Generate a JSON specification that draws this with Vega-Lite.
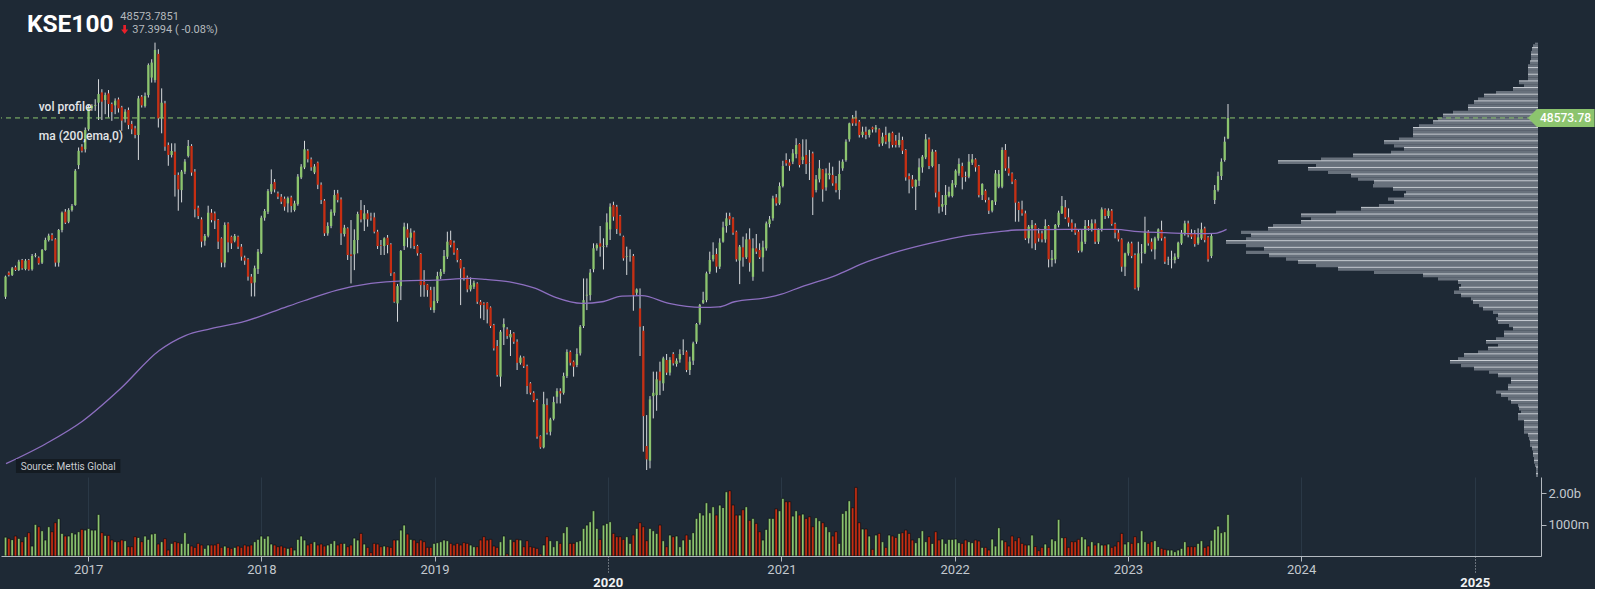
{
  "$schema": "https://vega.github.io/schema/vega-lite/v6.json",
  "background": "#1e2935",
  "padding": 0,
  "spacing": 0,
  "bounds": "flush",
  "config": {
    "view": {"stroke": null},
    "font": "Roboto",
    "axis": {
      "labelFont": "Roboto",
      "labelColor": "#c3c8ce",
      "labelFontSize": 13,
      "domainColor": "#b3b9c0",
      "tickColor": "#b3b9c0",
      "gridColor": "#2a3846",
      "title": null
    }
  },
  "datasets": {
    "candles": [
      {"d":"2016-07-11","o":37830,"h":39100,"l":37700,"c":39040,"v":600},
      {"d":"2016-07-18","o":39280,"h":39350,"l":39050,"c":39140,"v":560},
      {"d":"2016-07-25","o":39140,"h":39620,"l":39080,"c":39540,"v":520},
      {"d":"2016-08-01","o":39600,"h":39700,"l":39380,"c":39440,"v":635},
      {"d":"2016-08-08","o":39440,"h":40050,"l":39380,"c":39940,"v":560},
      {"d":"2016-08-15","o":40040,"h":40100,"l":39450,"c":39540,"v":455},
      {"d":"2016-08-22","o":39500,"h":40100,"l":39420,"c":40000,"v":614},
      {"d":"2016-08-29","o":40040,"h":40100,"l":39400,"c":39460,"v":741},
      {"d":"2016-09-05","o":39480,"h":40400,"l":39400,"c":40280,"v":317},
      {"d":"2016-09-12","o":40300,"h":40450,"l":40200,"c":40340,"v":1005},
      {"d":"2016-09-19","o":40180,"h":40250,"l":39760,"c":39840,"v":931},
      {"d":"2016-09-26","o":39880,"h":40700,"l":39800,"c":40640,"v":804},
      {"d":"2016-10-03","o":40640,"h":41380,"l":40600,"c":41240,"v":508},
      {"d":"2016-10-10","o":41240,"h":41620,"l":41150,"c":41500,"v":931},
      {"d":"2016-10-17","o":41540,"h":41650,"l":41200,"c":41280,"v":772},
      {"d":"2016-10-24","o":41280,"h":41350,"l":39640,"c":39880,"v":1058},
      {"d":"2016-10-31","o":39880,"h":41900,"l":39640,"c":41840,"v":1185},
      {"d":"2016-11-07","o":41840,"h":42950,"l":41700,"c":42880,"v":719},
      {"d":"2016-11-14","o":42940,"h":43100,"l":42200,"c":42280,"v":635},
      {"d":"2016-11-21","o":42340,"h":43150,"l":42250,"c":43040,"v":635},
      {"d":"2016-11-28","o":43040,"h":43400,"l":42950,"c":43280,"v":741},
      {"d":"2016-12-05","o":43340,"h":45500,"l":43300,"c":45400,"v":698},
      {"d":"2016-12-12","o":45740,"h":46800,"l":45500,"c":46600,"v":772},
      {"d":"2016-12-19","o":46850,"h":47000,"l":46500,"c":46600,"v":846},
      {"d":"2016-12-26","o":46690,"h":48000,"l":46500,"c":47850,"v":825},
      {"d":"2017-01-02","o":47890,"h":49350,"l":47800,"c":49210,"v":878},
      {"d":"2017-01-09","o":49150,"h":49400,"l":49000,"c":49300,"v":825},
      {"d":"2017-01-16","o":49300,"h":49700,"l":49000,"c":49350,"v":825},
      {"d":"2017-01-23","o":49490,"h":50900,"l":48450,"c":50010,"v":1322},
      {"d":"2017-01-30","o":50110,"h":50300,"l":48450,"c":49550,"v":741},
      {"d":"2017-02-06","o":49650,"h":50100,"l":48800,"c":49950,"v":656},
      {"d":"2017-02-13","o":50050,"h":50250,"l":48600,"c":49410,"v":656},
      {"d":"2017-02-20","o":49410,"h":49500,"l":48400,"c":48930,"v":508},
      {"d":"2017-02-27","o":49330,"h":49750,"l":48800,"c":49610,"v":455},
      {"d":"2017-03-06","o":49690,"h":49800,"l":48900,"c":49150,"v":455},
      {"d":"2017-03-13","o":49210,"h":49300,"l":47800,"c":48410,"v":508},
      {"d":"2017-03-20","o":48500,"h":49100,"l":48300,"c":48950,"v":487},
      {"d":"2017-03-27","o":49050,"h":49200,"l":47900,"c":48150,"v":296},
      {"d":"2017-04-03","o":48210,"h":48400,"l":47600,"c":47890,"v":296},
      {"d":"2017-04-10","o":47950,"h":48100,"l":47350,"c":47550,"v":614},
      {"d":"2017-04-17","o":47550,"h":49900,"l":46050,"c":49750,"v":590},
      {"d":"2017-04-24","o":49850,"h":49950,"l":49200,"c":49330,"v":455},
      {"d":"2017-05-01","o":49290,"h":50100,"l":49200,"c":49890,"v":635},
      {"d":"2017-05-08","o":49950,"h":51850,"l":49800,"c":51750,"v":529},
      {"d":"2017-05-15","o":51000,"h":52100,"l":50700,"c":51900,"v":698},
      {"d":"2017-05-22","o":50850,"h":53100,"l":50700,"c":52660,"v":719},
      {"d":"2017-05-29","o":52420,"h":52700,"l":48000,"c":48550,"v":381},
      {"d":"2017-06-05","o":48550,"h":50350,"l":47650,"c":49490,"v":455},
      {"d":"2017-06-12","o":49450,"h":49600,"l":46600,"c":46850,"v":550},
      {"d":"2017-06-19","o":46950,"h":47100,"l":45700,"c":46350,"v":190},
      {"d":"2017-06-26","o":46350,"h":47050,"l":46200,"c":46590,"v":402},
      {"d":"2017-07-03","o":46550,"h":47050,"l":43850,"c":45150,"v":455},
      {"d":"2017-07-10","o":45150,"h":45300,"l":43000,"c":44280,"v":423},
      {"d":"2017-07-17","o":44240,"h":45450,"l":43500,"c":45350,"v":402},
      {"d":"2017-07-24","o":45350,"h":46100,"l":45200,"c":45950,"v":741},
      {"d":"2017-07-31","o":46290,"h":47250,"l":46200,"c":46890,"v":402},
      {"d":"2017-08-07","o":46890,"h":47000,"l":45100,"c":45290,"v":317},
      {"d":"2017-08-14","o":45350,"h":45500,"l":42600,"c":43080,"v":275},
      {"d":"2017-08-21","o":43180,"h":43300,"l":42500,"c":42680,"v":402},
      {"d":"2017-08-28","o":42480,"h":42600,"l":40800,"c":41140,"v":349},
      {"d":"2017-09-04","o":41200,"h":41600,"l":40900,"c":41480,"v":243},
      {"d":"2017-09-11","o":41500,"h":43300,"l":41400,"c":42880,"v":349},
      {"d":"2017-09-18","o":42880,"h":43100,"l":42300,"c":42440,"v":349},
      {"d":"2017-09-25","o":42840,"h":42950,"l":41900,"c":42400,"v":349},
      {"d":"2017-10-02","o":42440,"h":42500,"l":40700,"c":41140,"v":402},
      {"d":"2017-10-09","o":41340,"h":41400,"l":39600,"c":39880,"v":275},
      {"d":"2017-10-16","o":39880,"h":42300,"l":39600,"c":42140,"v":317},
      {"d":"2017-10-23","o":42240,"h":42300,"l":40500,"c":41100,"v":275},
      {"d":"2017-10-30","o":41440,"h":41500,"l":40700,"c":41040,"v":243},
      {"d":"2017-11-06","o":41200,"h":41600,"l":41100,"c":41480,"v":275},
      {"d":"2017-11-13","o":41440,"h":41500,"l":40700,"c":40840,"v":317},
      {"d":"2017-11-20","o":40840,"h":41000,"l":40000,"c":40240,"v":275},
      {"d":"2017-11-27","o":40180,"h":40300,"l":39750,"c":40000,"v":349},
      {"d":"2017-12-04","o":40080,"h":40150,"l":38800,"c":39040,"v":317},
      {"d":"2017-12-11","o":39040,"h":39200,"l":37850,"c":38640,"v":349},
      {"d":"2017-12-18","o":38680,"h":39700,"l":37850,"c":39540,"v":455},
      {"d":"2017-12-25","o":39500,"h":40700,"l":39200,"c":40540,"v":529},
      {"d":"2018-01-01","o":40480,"h":42700,"l":40400,"c":42580,"v":635},
      {"d":"2018-01-08","o":42580,"h":43100,"l":42400,"c":42980,"v":560},
      {"d":"2018-01-15","o":42940,"h":44300,"l":42800,"c":44180,"v":635},
      {"d":"2018-01-22","o":44150,"h":45480,"l":44000,"c":44600,"v":381},
      {"d":"2018-01-29","o":44720,"h":44900,"l":44100,"c":44280,"v":349},
      {"d":"2018-02-05","o":44040,"h":44150,"l":43700,"c":43840,"v":296},
      {"d":"2018-02-12","o":43840,"h":44000,"l":43400,"c":43540,"v":317},
      {"d":"2018-02-19","o":43720,"h":43850,"l":43000,"c":43240,"v":275},
      {"d":"2018-02-26","o":43440,"h":43850,"l":42900,"c":43760,"v":243},
      {"d":"2018-03-05","o":43800,"h":43900,"l":42900,"c":43280,"v":275},
      {"d":"2018-03-12","o":43040,"h":43600,"l":42950,"c":43440,"v":190},
      {"d":"2018-03-19","o":43400,"h":45200,"l":43300,"c":45050,"v":529},
      {"d":"2018-03-26","o":45000,"h":45800,"l":44900,"c":45650,"v":635},
      {"d":"2018-04-02","o":45600,"h":47200,"l":45500,"c":46690,"v":508},
      {"d":"2018-04-09","o":46610,"h":46700,"l":45900,"c":46090,"v":349},
      {"d":"2018-04-16","o":46090,"h":46200,"l":45400,"c":45610,"v":402},
      {"d":"2018-04-23","o":45300,"h":45800,"l":45200,"c":45660,"v":455},
      {"d":"2018-04-30","o":45890,"h":45950,"l":44300,"c":44560,"v":349},
      {"d":"2018-05-07","o":44560,"h":44700,"l":43400,"c":43640,"v":381},
      {"d":"2018-05-14","o":43600,"h":43700,"l":41480,"c":41640,"v":317},
      {"d":"2018-05-21","o":41640,"h":42300,"l":41500,"c":42080,"v":349},
      {"d":"2018-05-28","o":42080,"h":43080,"l":41950,"c":42940,"v":402},
      {"d":"2018-06-04","o":42880,"h":44250,"l":42700,"c":43940,"v":487},
      {"d":"2018-06-11","o":44040,"h":44250,"l":43500,"c":43640,"v":349},
      {"d":"2018-06-18","o":43680,"h":43800,"l":40940,"c":41640,"v":402},
      {"d":"2018-06-25","o":41600,"h":42150,"l":41450,"c":41980,"v":402},
      {"d":"2018-07-02","o":41940,"h":42000,"l":40040,"c":40340,"v":296},
      {"d":"2018-07-09","o":40380,"h":42440,"l":38630,"c":40280,"v":349},
      {"d":"2018-07-16","o":40380,"h":41880,"l":39430,"c":41240,"v":570},
      {"d":"2018-07-23","o":41240,"h":42940,"l":40440,"c":42800,"v":508},
      {"d":"2018-07-30","o":43040,"h":43640,"l":42300,"c":42480,"v":719},
      {"d":"2018-08-06","o":42480,"h":43340,"l":41780,"c":42840,"v":381},
      {"d":"2018-08-13","o":42840,"h":43040,"l":42040,"c":42480,"v":275},
      {"d":"2018-08-20","o":42640,"h":42880,"l":42400,"c":42600,"v":106},
      {"d":"2018-08-27","o":42600,"h":42880,"l":41640,"c":41740,"v":402},
      {"d":"2018-09-03","o":41740,"h":41850,"l":40700,"c":40880,"v":381},
      {"d":"2018-09-10","o":40940,"h":41240,"l":40340,"c":40900,"v":296},
      {"d":"2018-09-17","o":40880,"h":41400,"l":40340,"c":41340,"v":317},
      {"d":"2018-09-24","o":41380,"h":41540,"l":40440,"c":40940,"v":296},
      {"d":"2018-10-01","o":40980,"h":41050,"l":39080,"c":39240,"v":275},
      {"d":"2018-10-08","o":39240,"h":39300,"l":37470,"c":37530,"v":508},
      {"d":"2018-10-15","o":37430,"h":38600,"l":36330,"c":38470,"v":508},
      {"d":"2018-10-22","o":38470,"h":40640,"l":37630,"c":40580,"v":825},
      {"d":"2018-10-29","o":40880,"h":42280,"l":40640,"c":42040,"v":984},
      {"d":"2018-11-05","o":41880,"h":42240,"l":40800,"c":41380,"v":698},
      {"d":"2018-11-12","o":41380,"h":41940,"l":40740,"c":41680,"v":529},
      {"d":"2018-11-19","o":41700,"h":41800,"l":40700,"c":40880,"v":508},
      {"d":"2018-11-26","o":40880,"h":40950,"l":40300,"c":40440,"v":423},
      {"d":"2018-12-03","o":40400,"h":40450,"l":37830,"c":38530,"v":508},
      {"d":"2018-12-10","o":38730,"h":39430,"l":37830,"c":38530,"v":455},
      {"d":"2018-12-17","o":38570,"h":38600,"l":37830,"c":38230,"v":275},
      {"d":"2018-12-24","o":38230,"h":38430,"l":37030,"c":37190,"v":275},
      {"d":"2018-12-31","o":37030,"h":38430,"l":36870,"c":37570,"v":402},
      {"d":"2019-01-07","o":37570,"h":39330,"l":37450,"c":39070,"v":423},
      {"d":"2019-01-14","o":39070,"h":39500,"l":38900,"c":39330,"v":455},
      {"d":"2019-01-21","o":39330,"h":40640,"l":39200,"c":40280,"v":508},
      {"d":"2019-01-28","o":40240,"h":41740,"l":40100,"c":41140,"v":487},
      {"d":"2019-02-04","o":41240,"h":41800,"l":40800,"c":40940,"v":402},
      {"d":"2019-02-11","o":41080,"h":41200,"l":40350,"c":40480,"v":349},
      {"d":"2019-02-18","o":40640,"h":40750,"l":39900,"c":40040,"v":402},
      {"d":"2019-02-25","o":40040,"h":40100,"l":37330,"c":39530,"v":349},
      {"d":"2019-03-04","o":39530,"h":39600,"l":38800,"c":38930,"v":423},
      {"d":"2019-03-11","o":38990,"h":39100,"l":38100,"c":38270,"v":402},
      {"d":"2019-03-18","o":38270,"h":38990,"l":38150,"c":38530,"v":349},
      {"d":"2019-03-25","o":38430,"h":38800,"l":38300,"c":38670,"v":296},
      {"d":"2019-04-01","o":38630,"h":38700,"l":37400,"c":37530,"v":296},
      {"d":"2019-04-08","o":37530,"h":37630,"l":36530,"c":37330,"v":508},
      {"d":"2019-04-15","o":37430,"h":37500,"l":36430,"c":37330,"v":614},
      {"d":"2019-04-22","o":37470,"h":37500,"l":36230,"c":37070,"v":508},
      {"d":"2019-04-29","o":37190,"h":37250,"l":35950,"c":36070,"v":529},
      {"d":"2019-05-06","o":36130,"h":36200,"l":34600,"c":34730,"v":317},
      {"d":"2019-05-13","o":34870,"h":35230,"l":33030,"c":33130,"v":275},
      {"d":"2019-05-20","o":33030,"h":35830,"l":32430,"c":35730,"v":455},
      {"d":"2019-05-27","o":35990,"h":36530,"l":34930,"c":36190,"v":635},
      {"d":"2019-06-03","o":35870,"h":36000,"l":35300,"c":35470,"v":63},
      {"d":"2019-06-10","o":35390,"h":35830,"l":34270,"c":35590,"v":529},
      {"d":"2019-06-17","o":35630,"h":35700,"l":35000,"c":35130,"v":455},
      {"d":"2019-06-24","o":35130,"h":35270,"l":33430,"c":33860,"v":529},
      {"d":"2019-07-01","o":33860,"h":34300,"l":33750,"c":34180,"v":508},
      {"d":"2019-07-08","o":34180,"h":34250,"l":33550,"c":33660,"v":296},
      {"d":"2019-07-15","o":33660,"h":33750,"l":31980,"c":32470,"v":487},
      {"d":"2019-07-22","o":32630,"h":32700,"l":31950,"c":32060,"v":296},
      {"d":"2019-07-29","o":32060,"h":32150,"l":31500,"c":31620,"v":275},
      {"d":"2019-08-05","o":31620,"h":31700,"l":29300,"c":29420,"v":243},
      {"d":"2019-08-12","o":29460,"h":29500,"l":28700,"c":28780,"v":60},
      {"d":"2019-08-19","o":28780,"h":32120,"l":28720,"c":31380,"v":350},
      {"d":"2019-08-26","o":31320,"h":31720,"l":29550,"c":29660,"v":614},
      {"d":"2019-09-02","o":29720,"h":30560,"l":29500,"c":30460,"v":487},
      {"d":"2019-09-09","o":30500,"h":31830,"l":30400,"c":31500,"v":296},
      {"d":"2019-09-16","o":31820,"h":32330,"l":31420,"c":32160,"v":487},
      {"d":"2019-09-23","o":32160,"h":32330,"l":31420,"c":32020,"v":402},
      {"d":"2019-09-30","o":32060,"h":33270,"l":31950,"c":33070,"v":741},
      {"d":"2019-10-07","o":33070,"h":34670,"l":32950,"c":34510,"v":931},
      {"d":"2019-10-14","o":34510,"h":34600,"l":33700,"c":33860,"v":402},
      {"d":"2019-10-21","o":33930,"h":34000,"l":33030,"c":33630,"v":402},
      {"d":"2019-10-28","o":33730,"h":34730,"l":33600,"c":34390,"v":455},
      {"d":"2019-11-04","o":34430,"h":36130,"l":34300,"c":36030,"v":487},
      {"d":"2019-11-11","o":36070,"h":38930,"l":35950,"c":37630,"v":878},
      {"d":"2019-11-18","o":37900,"h":38930,"l":37030,"c":37950,"v":984},
      {"d":"2019-11-25","o":37930,"h":39500,"l":37600,"c":39280,"v":1090},
      {"d":"2019-12-02","o":39480,"h":41040,"l":39300,"c":40740,"v":1439},
      {"d":"2019-12-09","o":40740,"h":41040,"l":40600,"c":40940,"v":878},
      {"d":"2019-12-16","o":41040,"h":42080,"l":40240,"c":40840,"v":529},
      {"d":"2019-12-23","o":40840,"h":41340,"l":39470,"c":40880,"v":984},
      {"d":"2019-12-30","o":40940,"h":42840,"l":40800,"c":42300,"v":1037},
      {"d":"2020-01-06","o":41880,"h":43440,"l":41240,"c":43240,"v":1090},
      {"d":"2020-01-13","o":43340,"h":43540,"l":42400,"c":42640,"v":719},
      {"d":"2020-01-20","o":43240,"h":43350,"l":41600,"c":41900,"v":614},
      {"d":"2020-01-27","o":42680,"h":42750,"l":41500,"c":41640,"v":614},
      {"d":"2020-02-03","o":41440,"h":41500,"l":40000,"c":40140,"v":529},
      {"d":"2020-02-10","o":40240,"h":40840,"l":39140,"c":40280,"v":614},
      {"d":"2020-02-17","o":40240,"h":40680,"l":39940,"c":40260,"v":402},
      {"d":"2020-02-24","o":40280,"h":40400,"l":36990,"c":37930,"v":667},
      {"d":"2020-03-02","o":38070,"h":38330,"l":37900,"c":38270,"v":878},
      {"d":"2020-03-09","o":37130,"h":38330,"l":34270,"c":36030,"v":1058},
      {"d":"2020-03-16","o":35790,"h":36070,"l":28520,"c":30660,"v":931},
      {"d":"2020-03-23","o":28860,"h":30720,"l":27420,"c":28060,"v":487},
      {"d":"2020-03-30","o":27980,"h":31860,"l":27520,"c":31660,"v":878},
      {"d":"2020-04-06","o":31860,"h":33330,"l":30520,"c":32060,"v":804},
      {"d":"2020-04-13","o":31920,"h":33330,"l":30980,"c":32870,"v":719},
      {"d":"2020-04-20","o":33330,"h":33930,"l":31920,"c":32790,"v":984},
      {"d":"2020-04-27","o":32630,"h":34230,"l":32180,"c":34130,"v":487},
      {"d":"2020-05-04","o":34030,"h":34390,"l":33130,"c":33270,"v":296},
      {"d":"2020-05-11","o":33270,"h":34200,"l":33100,"c":34030,"v":667},
      {"d":"2020-05-18","o":34390,"h":34500,"l":33700,"c":33830,"v":614},
      {"d":"2020-05-25","o":33790,"h":34130,"l":33630,"c":33990,"v":635},
      {"d":"2020-06-01","o":34070,"h":34670,"l":33870,"c":34390,"v":296},
      {"d":"2020-06-08","o":34590,"h":35270,"l":34330,"c":34610,"v":508},
      {"d":"2020-06-15","o":34530,"h":34600,"l":33300,"c":33430,"v":667},
      {"d":"2020-06-22","o":33430,"h":34230,"l":33130,"c":33930,"v":529},
      {"d":"2020-06-29","o":33990,"h":35130,"l":33730,"c":35030,"v":741},
      {"d":"2020-07-06","o":35130,"h":36250,"l":35000,"c":36190,"v":1196},
      {"d":"2020-07-13","o":36270,"h":37400,"l":36150,"c":37330,"v":1375},
      {"d":"2020-07-20","o":37470,"h":38130,"l":37400,"c":37630,"v":1301},
      {"d":"2020-07-27","o":37630,"h":39340,"l":37500,"c":39240,"v":1693},
      {"d":"2020-08-03","o":39340,"h":40540,"l":39200,"c":40040,"v":1375},
      {"d":"2020-08-10","o":40080,"h":41100,"l":39950,"c":40340,"v":1566},
      {"d":"2020-08-17","o":40400,"h":40740,"l":39280,"c":39640,"v":1301},
      {"d":"2020-08-24","o":39640,"h":41340,"l":39500,"c":41080,"v":1619},
      {"d":"2020-08-31","o":41140,"h":42340,"l":41080,"c":42000,"v":1540},
      {"d":"2020-09-07","o":42080,"h":42880,"l":41680,"c":42540,"v":2042},
      {"d":"2020-09-14","o":42680,"h":42880,"l":42140,"c":42480,"v":2074},
      {"d":"2020-09-21","o":42540,"h":42600,"l":41550,"c":41680,"v":1620},
      {"d":"2020-09-28","o":41740,"h":41800,"l":39940,"c":40080,"v":1301},
      {"d":"2020-10-05","o":40000,"h":40940,"l":38590,"c":40840,"v":1301},
      {"d":"2020-10-12","o":40800,"h":41440,"l":39640,"c":40200,"v":1470},
      {"d":"2020-10-19","o":40200,"h":41640,"l":40100,"c":41280,"v":1566},
      {"d":"2020-10-26","o":41280,"h":41940,"l":39340,"c":39880,"v":1132},
      {"d":"2020-11-02","o":39030,"h":41340,"l":38790,"c":40740,"v":1196},
      {"d":"2020-11-09","o":40740,"h":41600,"l":40400,"c":40540,"v":1037},
      {"d":"2020-11-16","o":40640,"h":41040,"l":40100,"c":40200,"v":772},
      {"d":"2020-11-23","o":40200,"h":41200,"l":39340,"c":40800,"v":508},
      {"d":"2020-11-30","o":40740,"h":42350,"l":40600,"c":42240,"v":846},
      {"d":"2020-12-07","o":42200,"h":42680,"l":42000,"c":42480,"v":1196},
      {"d":"2020-12-14","o":42540,"h":43900,"l":42400,"c":43740,"v":1196},
      {"d":"2020-12-21","o":43800,"h":44000,"l":43300,"c":43440,"v":1498},
      {"d":"2020-12-28","o":43440,"h":44700,"l":43350,"c":44480,"v":1439},
      {"d":"2021-01-04","o":44480,"h":46000,"l":44400,"c":45685,"v":1830},
      {"d":"2021-01-11","o":46046,"h":46450,"l":45700,"c":45845,"v":1725},
      {"d":"2021-01-18","o":45900,"h":46100,"l":45400,"c":45700,"v":1725},
      {"d":"2021-01-25","o":45950,"h":46700,"l":45800,"c":46450,"v":1270},
      {"d":"2021-02-01","o":46400,"h":47350,"l":46150,"c":46947,"v":1439},
      {"d":"2021-02-08","o":47007,"h":47050,"l":45600,"c":45745,"v":1301},
      {"d":"2021-02-15","o":46046,"h":47288,"l":45800,"c":46246,"v":1333},
      {"d":"2021-02-22","o":46346,"h":47288,"l":45205,"c":45805,"v":1196},
      {"d":"2021-03-01","o":45905,"h":46650,"l":44844,"c":45885,"v":1248},
      {"d":"2021-03-08","o":46446,"h":46547,"l":42741,"c":43802,"v":931},
      {"d":"2021-03-15","o":44243,"h":45144,"l":44100,"c":44884,"v":1217},
      {"d":"2021-03-22","o":44884,"h":46046,"l":44700,"c":45545,"v":1121},
      {"d":"2021-03-29","o":45485,"h":45500,"l":43542,"c":44283,"v":1058},
      {"d":"2021-04-05","o":44403,"h":45545,"l":44200,"c":45245,"v":931},
      {"d":"2021-04-12","o":45144,"h":45885,"l":44884,"c":45245,"v":772},
      {"d":"2021-04-19","o":45144,"h":45645,"l":44500,"c":44644,"v":635},
      {"d":"2021-04-26","o":44644,"h":45084,"l":44100,"c":44243,"v":772},
      {"d":"2021-05-03","o":44243,"h":46006,"l":43682,"c":45204,"v":402},
      {"d":"2021-05-10","o":45545,"h":46086,"l":45400,"c":45945,"v":1354},
      {"d":"2021-05-17","o":46046,"h":47288,"l":45945,"c":47148,"v":1439},
      {"d":"2021-05-24","o":47288,"h":48290,"l":47150,"c":48249,"v":1756},
      {"d":"2021-05-31","o":48550,"h":48750,"l":48100,"c":48249,"v":1534},
      {"d":"2021-06-07","o":48610,"h":49010,"l":48100,"c":48249,"v":2180},
      {"d":"2021-06-14","o":48350,"h":48450,"l":47400,"c":47548,"v":1058},
      {"d":"2021-06-21","o":47548,"h":48049,"l":47400,"c":47748,"v":857},
      {"d":"2021-06-28","o":47748,"h":48049,"l":47300,"c":47548,"v":857},
      {"d":"2021-07-05","o":47548,"h":47888,"l":47400,"c":47848,"v":635},
      {"d":"2021-07-12","o":48009,"h":48049,"l":47700,"c":47888,"v":212},
      {"d":"2021-07-19","o":47888,"h":48150,"l":47700,"c":48000,"v":667},
      {"d":"2021-07-26","o":47888,"h":47950,"l":46850,"c":47007,"v":719},
      {"d":"2021-08-02","o":47047,"h":47688,"l":46900,"c":47448,"v":455},
      {"d":"2021-08-09","o":47548,"h":48049,"l":47000,"c":47148,"v":275},
      {"d":"2021-08-16","o":47148,"h":47688,"l":46747,"c":47648,"v":667},
      {"d":"2021-08-23","o":47688,"h":47750,"l":46800,"c":46947,"v":635},
      {"d":"2021-08-30","o":47208,"h":47548,"l":46800,"c":46947,"v":592},
      {"d":"2021-09-06","o":46947,"h":47688,"l":46800,"c":47248,"v":719},
      {"d":"2021-09-13","o":47248,"h":47448,"l":46406,"c":46607,"v":741},
      {"d":"2021-09-20","o":46647,"h":46700,"l":44804,"c":45004,"v":825},
      {"d":"2021-09-27","o":45084,"h":45244,"l":44043,"c":44884,"v":719},
      {"d":"2021-10-04","o":44884,"h":45144,"l":44350,"c":44443,"v":508},
      {"d":"2021-10-11","o":44443,"h":44884,"l":43041,"c":44844,"v":423},
      {"d":"2021-10-18","o":44804,"h":46146,"l":44483,"c":45605,"v":582},
      {"d":"2021-10-25","o":45605,"h":46346,"l":45284,"c":46246,"v":804},
      {"d":"2021-11-01","o":46206,"h":47608,"l":46100,"c":47288,"v":455},
      {"d":"2021-11-08","o":47288,"h":47400,"l":45500,"c":45685,"v":614},
      {"d":"2021-11-15","o":45685,"h":46687,"l":45605,"c":46547,"v":400},
      {"d":"2021-11-22","o":46547,"h":46647,"l":43802,"c":44083,"v":772},
      {"d":"2021-11-29","o":44143,"h":45805,"l":42841,"c":43241,"v":508},
      {"d":"2021-12-06","o":43241,"h":43942,"l":42941,"c":43402,"v":540},
      {"d":"2021-12-13","o":43341,"h":44543,"l":42741,"c":43942,"v":402},
      {"d":"2021-12-20","o":43882,"h":44443,"l":43800,"c":44143,"v":529},
      {"d":"2021-12-27","o":43882,"h":44844,"l":43800,"c":44644,"v":529},
      {"d":"2022-01-03","o":44543,"h":45485,"l":44400,"c":45405,"v":540},
      {"d":"2022-01-10","o":45244,"h":46146,"l":45100,"c":45805,"v":423},
      {"d":"2022-01-17","o":45685,"h":45886,"l":44283,"c":45004,"v":402},
      {"d":"2022-01-24","o":45064,"h":45345,"l":44744,"c":45024,"v":508},
      {"d":"2022-01-31","o":45044,"h":46406,"l":44950,"c":45946,"v":455},
      {"d":"2022-02-07","o":45886,"h":46406,"l":45750,"c":46086,"v":423},
      {"d":"2022-02-14","o":46086,"h":46150,"l":45345,"c":45605,"v":508},
      {"d":"2022-02-21","o":45685,"h":45750,"l":43800,"c":43942,"v":476},
      {"d":"2022-02-28","o":43942,"h":44650,"l":43642,"c":44604,"v":275},
      {"d":"2022-03-07","o":44203,"h":44283,"l":43500,"c":43642,"v":275},
      {"d":"2022-03-14","o":43642,"h":43802,"l":42801,"c":43001,"v":190},
      {"d":"2022-03-21","o":43001,"h":43642,"l":42900,"c":43602,"v":540},
      {"d":"2022-03-28","o":43542,"h":45445,"l":43341,"c":45244,"v":317},
      {"d":"2022-04-04","o":44443,"h":45445,"l":44350,"c":45204,"v":899},
      {"d":"2022-04-11","o":44443,"h":46807,"l":44350,"c":46647,"v":508},
      {"d":"2022-04-18","o":46647,"h":47007,"l":45400,"c":45545,"v":455},
      {"d":"2022-04-25","o":45545,"h":46246,"l":45100,"c":45244,"v":317},
      {"d":"2022-05-02","o":45244,"h":45300,"l":44600,"c":44744,"v":635},
      {"d":"2022-05-09","o":44844,"h":44884,"l":42340,"c":43482,"v":487},
      {"d":"2022-05-16","o":43482,"h":43542,"l":42340,"c":43041,"v":582},
      {"d":"2022-05-23","o":43081,"h":43602,"l":42700,"c":42841,"v":402},
      {"d":"2022-05-30","o":42841,"h":43001,"l":41239,"c":41339,"v":349},
      {"d":"2022-06-06","o":41339,"h":42140,"l":41038,"c":42040,"v":349},
      {"d":"2022-06-13","o":41939,"h":42440,"l":40738,"c":42140,"v":667},
      {"d":"2022-06-20","o":42140,"h":42240,"l":40638,"c":41038,"v":300},
      {"d":"2022-06-27","o":41639,"h":41939,"l":41138,"c":41339,"v":169},
      {"d":"2022-07-04","o":41639,"h":41800,"l":41100,"c":41279,"v":275},
      {"d":"2022-07-11","o":41279,"h":42480,"l":41078,"c":42080,"v":381},
      {"d":"2022-07-18","o":42080,"h":42140,"l":39596,"c":40077,"v":275},
      {"d":"2022-07-25","o":40037,"h":40638,"l":39636,"c":40137,"v":540},
      {"d":"2022-08-01","o":40077,"h":42200,"l":39836,"c":42140,"v":487},
      {"d":"2022-08-08","o":42140,"h":43001,"l":42000,"c":42881,"v":1164},
      {"d":"2022-08-15","o":42841,"h":43882,"l":42801,"c":43281,"v":582},
      {"d":"2022-08-22","o":43201,"h":43642,"l":42500,"c":42601,"v":582},
      {"d":"2022-08-29","o":42601,"h":43141,"l":42040,"c":42280,"v":275},
      {"d":"2022-09-05","o":42280,"h":42480,"l":41739,"c":41879,"v":455},
      {"d":"2022-09-12","o":42000,"h":42240,"l":41550,"c":41679,"v":455},
      {"d":"2022-09-19","o":41739,"h":41879,"l":40477,"c":40598,"v":529},
      {"d":"2022-09-26","o":40598,"h":41879,"l":40500,"c":41138,"v":614},
      {"d":"2022-10-03","o":41138,"h":42440,"l":41000,"c":42080,"v":540},
      {"d":"2022-10-10","o":42080,"h":42440,"l":41800,"c":41939,"v":317},
      {"d":"2022-10-17","o":41879,"h":42480,"l":41750,"c":42240,"v":455},
      {"d":"2022-10-24","o":42240,"h":42480,"l":41000,"c":41138,"v":349},
      {"d":"2022-10-31","o":41138,"h":41939,"l":41000,"c":41839,"v":423},
      {"d":"2022-11-07","o":41879,"h":43201,"l":41750,"c":43081,"v":349},
      {"d":"2022-11-14","o":43081,"h":43141,"l":42500,"c":42681,"v":349},
      {"d":"2022-11-21","o":42681,"h":43141,"l":42550,"c":43001,"v":380},
      {"d":"2022-11-28","o":43001,"h":43100,"l":42100,"c":42200,"v":275},
      {"d":"2022-12-05","o":42200,"h":42280,"l":41339,"c":41679,"v":317},
      {"d":"2022-12-12","o":41679,"h":41879,"l":41150,"c":41279,"v":455},
      {"d":"2022-12-19","o":41279,"h":41339,"l":39335,"c":39636,"v":719},
      {"d":"2022-12-26","o":39636,"h":40477,"l":39075,"c":40437,"v":381},
      {"d":"2023-01-02","o":40437,"h":41138,"l":40300,"c":41038,"v":455},
      {"d":"2023-01-09","o":41038,"h":41138,"l":40150,"c":40277,"v":402},
      {"d":"2023-01-16","o":40337,"h":40437,"l":38274,"c":38334,"v":614},
      {"d":"2023-01-23","o":38394,"h":41138,"l":38194,"c":40437,"v":423},
      {"d":"2023-01-30","o":40477,"h":40998,"l":39836,"c":40500,"v":804},
      {"d":"2023-02-06","o":40477,"h":42640,"l":40400,"c":41739,"v":455},
      {"d":"2023-02-13","o":41739,"h":41839,"l":40900,"c":41038,"v":402},
      {"d":"2023-02-20","o":41138,"h":41339,"l":40550,"c":40678,"v":455},
      {"d":"2023-02-27","o":40678,"h":41439,"l":40077,"c":41339,"v":487},
      {"d":"2023-03-06","o":41339,"h":41939,"l":41200,"c":41879,"v":300},
      {"d":"2023-03-13","o":41839,"h":42400,"l":41200,"c":41339,"v":243},
      {"d":"2023-03-20","o":41339,"h":41439,"l":39800,"c":39937,"v":212},
      {"d":"2023-03-27","o":40037,"h":40237,"l":39736,"c":40060,"v":190},
      {"d":"2023-04-03","o":40077,"h":40598,"l":39536,"c":40100,"v":190},
      {"d":"2023-04-10","o":40037,"h":40437,"l":39836,"c":40237,"v":138},
      {"d":"2023-04-17","o":40197,"h":41138,"l":40100,"c":41078,"v":190},
      {"d":"2023-04-24","o":41038,"h":41839,"l":40950,"c":41679,"v":243},
      {"d":"2023-05-01","o":41599,"h":42400,"l":41500,"c":42240,"v":455},
      {"d":"2023-05-08","o":42240,"h":42400,"l":41400,"c":41539,"v":296},
      {"d":"2023-05-15","o":41639,"h":41879,"l":41300,"c":41439,"v":296},
      {"d":"2023-05-22","o":41639,"h":41839,"l":40838,"c":40998,"v":296},
      {"d":"2023-05-29","o":41038,"h":41939,"l":40950,"c":41399,"v":402},
      {"d":"2023-06-05","o":41339,"h":42280,"l":41250,"c":41879,"v":487},
      {"d":"2023-06-12","o":41939,"h":42040,"l":41100,"c":41239,"v":275},
      {"d":"2023-06-19","o":41399,"h":41479,"l":39937,"c":40077,"v":317},
      {"d":"2023-06-26","o":40277,"h":41600,"l":40150,"c":41479,"v":500},
      {"d":"2023-07-03","o":43642,"h":44543,"l":43402,"c":44243,"v":846},
      {"d":"2023-07-10","o":44243,"h":45345,"l":44150,"c":45084,"v":952},
      {"d":"2023-07-17","o":45084,"h":46146,"l":44844,"c":45946,"v":741},
      {"d":"2023-07-24","o":46046,"h":47448,"l":45946,"c":47148,"v":772},
      {"d":"2023-07-31","o":47348,"h":49411,"l":47300,"c":48573.79,"v":1322}
    ],
    "ema": [
      {"d":"2016-07-12","v":27800},
      {"d":"2016-10-04","v":29000},
      {"d":"2016-12-20","v":30350},
      {"d":"2017-03-10","v":32300},
      {"d":"2017-05-31","v":34600},
      {"d":"2017-07-25","v":35500},
      {"d":"2017-09-15","v":35900},
      {"d":"2017-11-27","v":36350},
      {"d":"2018-02-04","v":37030},
      {"d":"2018-04-01","v":37590},
      {"d":"2018-06-10","v":38230},
      {"d":"2018-08-20","v":38630},
      {"d":"2018-10-27","v":38790},
      {"d":"2019-01-05","v":38830},
      {"d":"2019-03-16","v":38930},
      {"d":"2019-04-19","v":38870},
      {"d":"2019-06-08","v":38730},
      {"d":"2019-08-02","v":38330},
      {"d":"2019-09-13","v":37790},
      {"d":"2019-11-08","v":37430},
      {"d":"2019-12-20","v":37530},
      {"d":"2020-01-31","v":37870},
      {"d":"2020-03-13","v":37900},
      {"d":"2020-05-09","v":37430},
      {"d":"2020-07-17","v":37190},
      {"d":"2020-08-22","v":37220},
      {"d":"2020-09-24","v":37530},
      {"d":"2020-12-04","v":37790},
      {"d":"2021-01-01","v":37990},
      {"d":"2021-02-12","v":38430},
      {"d":"2021-04-22","v":39075},
      {"d":"2021-07-01","v":39935},
      {"d":"2021-09-08","v":40580},
      {"d":"2021-11-16","v":41080},
      {"d":"2022-01-26","v":41500},
      {"d":"2022-04-05","v":41740},
      {"d":"2022-05-11","v":41840},
      {"d":"2022-08-23","v":41880},
      {"d":"2022-12-06","v":41880},
      {"d":"2023-01-23","v":41740},
      {"d":"2023-03-20","v":41680},
      {"d":"2023-05-29","v":41620},
      {"d":"2023-07-03","v":41640},
      {"d":"2023-07-28","v":41880}
    ],
    "profile": [
      {"lo":27000,"hi":27200,"vol":2},{"lo":27200,"hi":27400,"vol":2},{"lo":27400,"hi":27600,"vol":2},{"lo":27600,"hi":27800,"vol":3},
      {"lo":27800,"hi":28000,"vol":4},{"lo":28000,"hi":28200,"vol":4},{"lo":28200,"hi":28400,"vol":5},{"lo":28400,"hi":28600,"vol":5},
      {"lo":28600,"hi":28800,"vol":6},{"lo":28800,"hi":29000,"vol":8},{"lo":29000,"hi":29200,"vol":8},{"lo":29200,"hi":29400,"vol":9},
      {"lo":29400,"hi":29600,"vol":10},{"lo":29600,"hi":29800,"vol":14},{"lo":29800,"hi":30000,"vol":14},{"lo":30000,"hi":30200,"vol":14},
      {"lo":30200,"hi":30400,"vol":14},{"lo":30400,"hi":30600,"vol":20},{"lo":30600,"hi":30800,"vol":20},{"lo":30800,"hi":31000,"vol":17},
      {"lo":31000,"hi":31200,"vol":19},{"lo":31200,"hi":31400,"vol":20},{"lo":31400,"hi":31600,"vol":27},{"lo":31600,"hi":31800,"vol":30},
      {"lo":31800,"hi":32000,"vol":37},{"lo":32000,"hi":32200,"vol":42},{"lo":32200,"hi":32400,"vol":30},{"lo":32400,"hi":32600,"vol":30},
      {"lo":32600,"hi":32800,"vol":27},{"lo":32800,"hi":33000,"vol":27},{"lo":33000,"hi":33200,"vol":40},{"lo":33200,"hi":33400,"vol":49},
      {"lo":33400,"hi":33600,"vol":64},{"lo":33600,"hi":33800,"vol":77},{"lo":33800,"hi":34000,"vol":88},{"lo":34000,"hi":34200,"vol":80},
      {"lo":34200,"hi":34400,"vol":74},{"lo":34400,"hi":34600,"vol":60},{"lo":34600,"hi":34800,"vol":50},{"lo":34800,"hi":35000,"vol":40},
      {"lo":35000,"hi":35200,"vol":52},{"lo":35200,"hi":35400,"vol":42},{"lo":35400,"hi":35600,"vol":34},{"lo":35600,"hi":35800,"vol":34},
      {"lo":35800,"hi":36000,"vol":25},{"lo":36000,"hi":36200,"vol":29},{"lo":36200,"hi":36400,"vol":40},{"lo":36400,"hi":36600,"vol":42},
      {"lo":36600,"hi":36800,"vol":40},{"lo":36800,"hi":37000,"vol":45},{"lo":37000,"hi":37200,"vol":55},{"lo":37200,"hi":37400,"vol":59},
      {"lo":37400,"hi":37600,"vol":65},{"lo":37600,"hi":37800,"vol":67},{"lo":37800,"hi":38000,"vol":77},{"lo":38000,"hi":38200,"vol":84},
      {"lo":38200,"hi":38400,"vol":79},{"lo":38400,"hi":38600,"vol":77},{"lo":38600,"hi":38800,"vol":80},{"lo":38800,"hi":39000,"vol":100},
      {"lo":39000,"hi":39200,"vol":115},{"lo":39200,"hi":39400,"vol":164},{"lo":39400,"hi":39600,"vol":200},{"lo":39600,"hi":39800,"vol":222},
      {"lo":39800,"hi":40000,"vol":240},{"lo":40000,"hi":40200,"vol":252},{"lo":40200,"hi":40400,"vol":269},{"lo":40400,"hi":40600,"vol":292},
      {"lo":40600,"hi":40800,"vol":274},{"lo":40800,"hi":41000,"vol":292},{"lo":41000,"hi":41200,"vol":312},{"lo":41200,"hi":41400,"vol":292},
      {"lo":41400,"hi":41600,"vol":287},{"lo":41600,"hi":41800,"vol":297},{"lo":41800,"hi":42000,"vol":270},{"lo":42000,"hi":42200,"vol":265},
      {"lo":42200,"hi":42400,"vol":237},{"lo":42400,"hi":42600,"vol":227},{"lo":42600,"hi":42800,"vol":237},{"lo":42800,"hi":43000,"vol":202},
      {"lo":43000,"hi":43200,"vol":177},{"lo":43200,"hi":43400,"vol":159},{"lo":43400,"hi":43600,"vol":144},{"lo":43600,"hi":43800,"vol":150},
      {"lo":43800,"hi":44000,"vol":134},{"lo":44000,"hi":44200,"vol":132},{"lo":44200,"hi":44400,"vol":145},{"lo":44400,"hi":44600,"vol":165},
      {"lo":44600,"hi":44800,"vol":164},{"lo":44800,"hi":45000,"vol":180},{"lo":45000,"hi":45200,"vol":187},{"lo":45200,"hi":45400,"vol":210},
      {"lo":45400,"hi":45600,"vol":230},{"lo":45600,"hi":45800,"vol":222},{"lo":45800,"hi":46000,"vol":260},{"lo":46000,"hi":46200,"vol":217},
      {"lo":46200,"hi":46400,"vol":185},{"lo":46400,"hi":46600,"vol":147},{"lo":46600,"hi":46800,"vol":134},{"lo":46800,"hi":47000,"vol":144},
      {"lo":47000,"hi":47200,"vol":154},{"lo":47200,"hi":47400,"vol":139},{"lo":47400,"hi":47600,"vol":125},{"lo":47600,"hi":47800,"vol":125},
      {"lo":47800,"hi":48000,"vol":125},{"lo":48000,"hi":48200,"vol":119},{"lo":48200,"hi":48400,"vol":105},{"lo":48400,"hi":48600,"vol":100},
      {"lo":48600,"hi":48800,"vol":95},{"lo":48800,"hi":49000,"vol":85},{"lo":49000,"hi":49200,"vol":70},{"lo":49200,"hi":49400,"vol":70},
      {"lo":49400,"hi":49600,"vol":64},{"lo":49600,"hi":49800,"vol":60},{"lo":49800,"hi":50000,"vol":54},{"lo":50000,"hi":50200,"vol":42},
      {"lo":50200,"hi":50400,"vol":25},{"lo":50400,"hi":50600,"vol":14},{"lo":50600,"hi":50800,"vol":19},{"lo":50800,"hi":51000,"vol":10},
      {"lo":51000,"hi":51200,"vol":10},{"lo":51200,"hi":51400,"vol":10},{"lo":51400,"hi":51600,"vol":10},{"lo":51600,"hi":51800,"vol":10},
      {"lo":51800,"hi":52000,"vol":8},{"lo":52000,"hi":52200,"vol":7},{"lo":52200,"hi":52400,"vol":7},{"lo":52400,"hi":52600,"vol":7},
      {"lo":52600,"hi":52800,"vol":6},{"lo":52800,"hi":53000,"vol":5},{"lo":53000,"hi":53100,"vol":3}
    ]
  },
  "vconcat": [
    {
      "width": 1540,
      "height": 477,
      "layer": [
        {
          "data": {"name": "profile"},
          "layer": [
            {
              "mark": {"type": "bar", "color": "#68717c"},
              "encoding": {
                "y": {"field": "lo", "type": "quantitative", "scale": {"domain": [27000, 55661], "nice": false, "zero": false}, "axis": null},
                "y2": {"field": "hi"},
                "x": {"field": "vol", "type": "quantitative", "scale": {"domain": [-3, 1537], "reverse": true, "nice": false, "zero": false}, "axis": null},
                "x2": {"datum": 0}
              }
            },
            {
              "transform": [{"filter": "datum.hi % 400 == 0"}],
              "mark": {"type": "rule", "color": "#c9ced4", "strokeWidth": 1},
              "encoding": {
                "y": {"field": "hi", "type": "quantitative", "axis": null},
                "x": {"field": "vol", "type": "quantitative", "axis": null},
                "x2": {"datum": 0}
              }
            }
          ]
        },
        {
          "layer": [
            {
              "data": {"name": "candles"},
              "mark": {"type": "rule", "color": "#d6d9dc", "strokeWidth": 1, "clip": true},
              "encoding": {
                "x": {"field": "d", "type": "temporal", "axis": null},
                "y": {"field": "l", "type": "quantitative", "axis": null},
                "y2": {"field": "h"}
              }
            },
            {
              "data": {"name": "candles"},
              "mark": {"type": "bar", "width": 2.3, "clip": true},
              "encoding": {
                "x": {
                  "field": "d", "type": "temporal",
                  "scale": {"domain": [{"year": 2016, "month": 7, "date": 12}, {"year": 2025, "month": 5, "date": 10}], "nice": false},
                  "axis": {
                    "values": [
                      {"year": 2017, "month": 1, "date": 1}, {"year": 2018, "month": 1, "date": 1}, {"year": 2019, "month": 1, "date": 1},
                      {"year": 2020, "month": 1, "date": 1}, {"year": 2021, "month": 1, "date": 1}, {"year": 2022, "month": 1, "date": 1},
                      {"year": 2023, "month": 1, "date": 1}, {"year": 2024, "month": 1, "date": 1}, {"year": 2025, "month": 1, "date": 1}
                    ],
                    "labels": false, "ticks": false, "domain": true, "grid": true
                  }
                },
                "y": {
                  "field": "o", "type": "quantitative",
                  "scale": {"domain": [27000, 55661], "nice": false, "zero": false},
                  "axis": {
                    "orient": "right",
                    "values": [30000, 35000, 40000, 45000, 50000, 55000],
                    "format": "d",
                    "grid": true,
                    "tickSize": 5,
                    "labelPadding": 2
                  }
                },
                "y2": {"field": "c"},
                "color": {"condition": {"test": "datum.c >= datum.o", "value": "#8cc46e"}, "value": "#c62e12"}
              }
            },
            {
              "data": {"name": "ema"},
              "mark": {"type": "line", "color": "#8d6fc0", "strokeWidth": 1.3, "interpolate": "monotone", "clip": true},
              "encoding": {
                "x": {"field": "d", "type": "temporal", "axis": null},
                "y": {"field": "v", "type": "quantitative", "axis": null}
              }
            },
            {
              "data": {"values": [{}]},
              "mark": {"type": "rule", "color": "#8cc46e", "strokeDash": [5, 4], "strokeWidth": 1},
              "encoding": {"y": {"datum": 48573.79, "type": "quantitative", "axis": null}}
            },
            {
              "data": {"values": [{}]},
              "mark": {"type": "rect", "color": "#141b22"},
              "encoding": {
                "x": {"datum": {"year": 2016, "month": 8, "date": 2}, "type": "temporal", "axis": null},
                "x2": {"datum": {"year": 2017, "month": 3, "date": 10}},
                "y": {"datum": 28082, "type": "quantitative", "axis": null},
                "y2": {"datum": 27240}
              }
            },
            {
              "data": {"values": [{}]},
              "mark": {"type": "text", "text": "Source: Mettis Global", "font": "Roboto", "fontSize": 10, "color": "#c8ccd0", "align": "left", "baseline": "alphabetic"},
              "encoding": {
                "x": {"datum": {"year": 2016, "month": 8, "date": 12}, "type": "temporal", "axis": null},
                "y": {"datum": 27421, "type": "quantitative", "axis": null}
              }
            },
            {
              "data": {"values": [{}]},
              "mark": {"type": "text", "text": "KSE100", "font": "Roboto", "fontWeight": "bold", "fontSize": 24.5, "color": "#ffffff", "align": "left", "baseline": "alphabetic"},
              "encoding": {
                "x": {"datum": {"year": 2016, "month": 8, "date": 25}, "type": "temporal", "axis": null},
                "y": {"datum": 53738, "type": "quantitative", "axis": null}
              }
            },
            {
              "data": {"values": [{}]},
              "mark": {"type": "text", "text": "48573.7851", "font": "Roboto", "fontSize": 11, "color": "#b5b9be", "align": "left", "baseline": "alphabetic"},
              "encoding": {
                "x": {"datum": {"year": 2017, "month": 3, "date": 10}, "type": "temporal", "axis": null},
                "y": {"datum": 54459, "type": "quantitative", "axis": null}
              }
            },
            {
              "data": {"values": [{}]},
              "mark": {"type": "point", "shape": "M-0.3,-1L0.3,-1L0.3,0L0.8,0L0,1L-0.8,0L-0.3,0Z", "size": 81, "filled": true, "color": "#e8202a", "opacity": 1, "strokeWidth": 0},
              "encoding": {
                "x": {"datum": {"year": 2017, "month": 3, "date": 19}, "type": "temporal", "axis": null},
                "y": {"datum": 53888, "type": "quantitative", "axis": null}
              }
            },
            {
              "data": {"values": [{}]},
              "mark": {"type": "text", "text": "37.3994 ( -0.08%)", "font": "Roboto", "fontSize": 11, "color": "#b5b9be", "align": "left", "baseline": "alphabetic"},
              "encoding": {
                "x": {"datum": {"year": 2017, "month": 4, "date": 4}, "type": "temporal", "axis": null},
                "y": {"datum": 53697, "type": "quantitative", "axis": null}
              }
            },
            {
              "data": {"values": [{}]},
              "mark": {"type": "text", "text": "vol profile", "font": "Roboto", "fontWeight": 500, "fontSize": 12, "color": "#e4e6e8", "align": "left", "baseline": "alphabetic"},
              "encoding": {
                "x": {"datum": {"year": 2016, "month": 9, "date": 19}, "type": "temporal", "axis": null},
                "y": {"datum": 49010, "type": "quantitative", "axis": null}
              }
            },
            {
              "data": {"values": [{}]},
              "mark": {"type": "text", "text": "ma (200,ema,0)", "font": "Roboto", "fontWeight": 500, "fontSize": 12, "color": "#e4e6e8", "align": "left", "baseline": "alphabetic"},
              "encoding": {
                "x": {"datum": {"year": 2016, "month": 9, "date": 19}, "type": "temporal", "axis": null},
                "y": {"datum": 47249, "type": "quantitative", "axis": null}
              }
            },
            {
              "data": {"values": [{}]},
              "mark": {"type": "point", "shape": "M0,0L0.5,-0.5L3.7,-0.5L3.7,0.5L0.5,0.5Z", "size": 1296, "filled": true, "color": "#8cc46e", "opacity": 1, "strokeWidth": 0},
              "encoding": {
                "x": {"datum": {"year": 2025, "month": 4, "date": 23}, "type": "temporal", "axis": null},
                "y": {"datum": 48573.79, "type": "quantitative", "axis": null}
              }
            },
            {
              "data": {"values": [{}]},
              "mark": {"type": "text", "text": "48573.78", "font": "Roboto", "fontSize": 12, "fontWeight": 500, "color": "#ffffff", "align": "left", "baseline": "middle", "dx": 4},
              "encoding": {
                "x": {"datum": {"year": 2025, "month": 5, "date": 10}, "type": "temporal", "axis": null},
                "y": {"datum": 48573.79, "type": "quantitative", "axis": null}
              }
            }
          ]
        }
      ],
      "resolve": {"scale": {"x": "independent"}}
    },
    {
      "width": 1540,
      "height": 79,
      "data": {"name": "candles"},
      "mark": {"type": "bar", "width": 2.6, "stroke": "#0b1016", "strokeWidth": 0.7, "clip": true},
      "encoding": {
        "x": {
          "field": "d", "type": "temporal",
          "scale": {"domain": [{"year": 2016, "month": 7, "date": 12}, {"year": 2025, "month": 5, "date": 10}], "nice": false},
          "axis": {
            "values": [
              {"year": 2017, "month": 1, "date": 1}, {"year": 2018, "month": 1, "date": 1}, {"year": 2019, "month": 1, "date": 1},
              {"year": 2020, "month": 1, "date": 1}, {"year": 2021, "month": 1, "date": 1}, {"year": 2022, "month": 1, "date": 1},
              {"year": 2023, "month": 1, "date": 1}, {"year": 2024, "month": 1, "date": 1}, {"year": 2025, "month": 1, "date": 1}
            ],
            "format": "%Y",
            "grid": true,
            "domain": true,
            "labelPadding": 2,
            "tickSize": {"condition": {"test": "year(datum.value) % 5 == 0", "value": 18}, "value": 5},
            "tickDash": {"condition": {"test": "year(datum.value) % 5 == 0", "value": [1, 2]}, "value": []},
            "labelFontWeight": {"condition": {"test": "year(datum.value) % 5 == 0", "value": "bold"}, "value": "normal"},
            "labelColor": {"condition": {"test": "year(datum.value) % 5 == 0", "value": "#f0f2f4"}, "value": "#c3c8ce"}
          }
        },
        "y": {
          "field": "v", "type": "quantitative",
          "scale": {"domain": [0, 2510], "nice": false},
          "axis": {
            "orient": "right",
            "values": [1000, 2000],
            "labelExpr": "datum.value == 2000 ? '2.00b' : '1000m'",
            "grid": false,
            "tickSize": 5,
            "labelPadding": 2
          }
        },
        "color": {"condition": {"test": "datum.c >= datum.o", "value": "#8cc46e"}, "value": "#c62e12"}
      }
    }
  ]
}
